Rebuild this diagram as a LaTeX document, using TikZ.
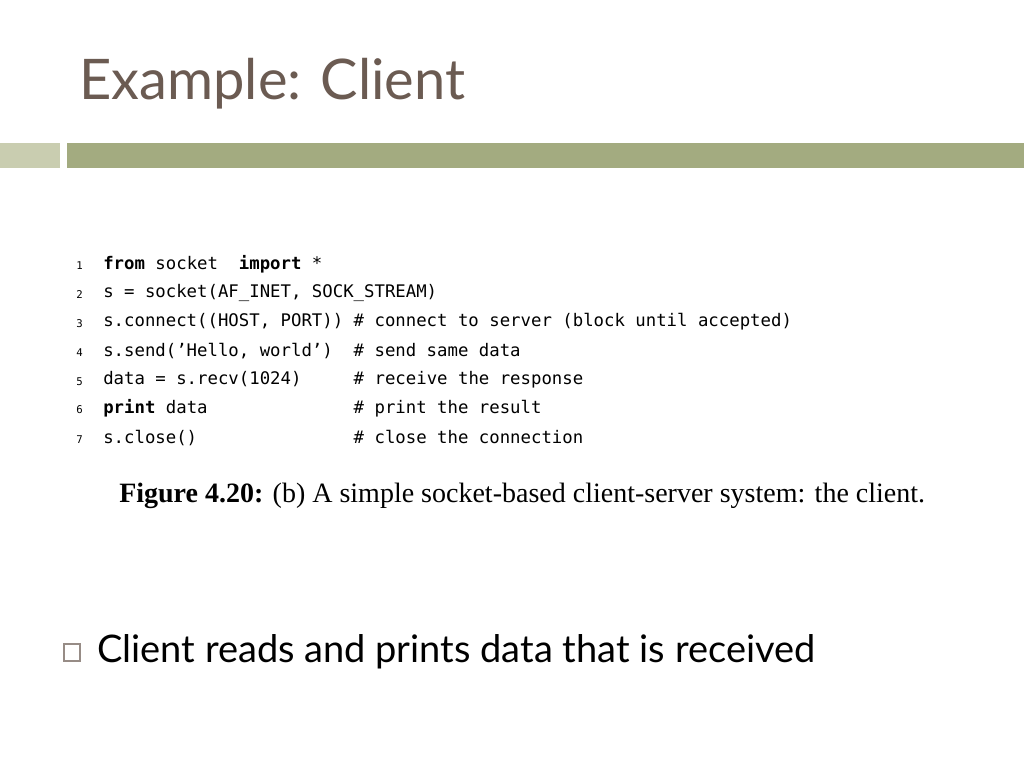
\documentclass[tikz,border=0pt]{standalone}
\usepackage{fontspec}
\setmainfont{Liberation Serif}
\newfontfamily\titlefont{Lato}
\newfontfamily\codefont{DejaVu Sans Mono}
\definecolor{titlec}{HTML}{6B5B52}
\definecolor{barA}{HTML}{C9CDB0}
\definecolor{barB}{HTML}{A3AB80}
\tikzset{x=0.75pt,y=-0.75pt,
 code/.style={anchor=west,inner sep=0,font=\codefont\fontsize{13}{14}\selectfont},
 num/.style={anchor=west,inner sep=0,font=\codefont\fontsize{8}{9}\selectfont}}
\begin{document}
\begin{tikzpicture}
\useasboundingbox[fill=white] (0,0) rectangle (1024,768);
\node[anchor=west,inner sep=0,text=titlec,font=\titlefont\fontsize{42}{46}\selectfont] (title) at (79,84) {Example: Client};
\fill[barA] (0,143) rectangle (60,168);
\fill[barB] (67,143) rectangle (1024,168);
\foreach \i/\y/\t in {1/264/{\textbf{from} socket\ \ \textbf{import} *},
 2/293/{s = socket(AF\_INET, SOCK\_STREAM)},
 3/322/{s.connect((HOST, PORT)) \# connect to server (block until accepted)},
 4/351/{s.send(’Hello, world’)\ \ \# send same data},
 5/380/{data = s.recv(1024)\ \ \ \ \ \# receive the response},
 6/408/{\textbf{print} data\ \ \ \ \ \ \ \ \ \ \ \ \ \ \# print the result},
 7/438/{s.close()\ \ \ \ \ \ \ \ \ \ \ \ \ \ \ \# close the connection}}{
 \node[num] (n\i) at (76,\y+2) {\i};
 \node[code] (c\i) at (103,\y) {\t};
}
\node[anchor=west,inner sep=0,font=\fontsize{21}{23}\selectfont] (cap) at (119,496) {\textbf{Figure 4.20:} (b) A simple socket-based client-server system: the client.};
\draw[titlec!70,line width=0.8pt] (64,644) rectangle (80,661);
\node[anchor=west,inner sep=0,font=\titlefont\fontsize{28.5}{32}\selectfont] (body) at (97,652) {Client reads and prints data that is received};
\end{tikzpicture}
\end{document}
